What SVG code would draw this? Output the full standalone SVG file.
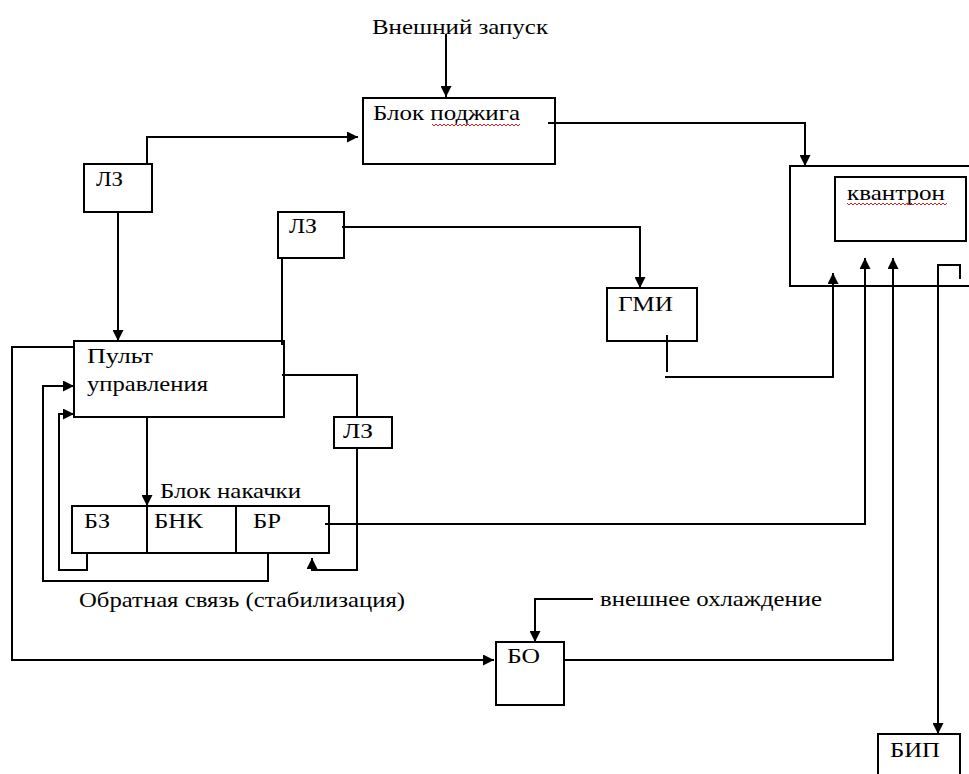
<svg xmlns="http://www.w3.org/2000/svg" width="969" height="774" viewBox="0 0 969 774">
<style>
.box{fill:#fff;stroke:#000;stroke-width:2}
.ln{fill:none;stroke:#000;stroke-width:2}
.ar{marker-end:url(#ah)}
text{font-family:'Liberation Serif','Times New Roman',Times,serif;font-size:21px;fill:#000}
.sq{fill:none;stroke:#d02020;stroke-width:1}
</style>
<defs>
<marker id="ah" markerUnits="userSpaceOnUse" markerWidth="11" markerHeight="11" refX="11" refY="5.5" orient="auto">
<path d="M0,0 L11,5.5 L0,11 z" fill="#000"/>
</marker>
</defs>
<rect width="969" height="774" fill="#fff"/>

<g id="nodes" font-family="Liberation Serif, Times New Roman, serif">
<g id="ext-start"><text x="372" y="34" textLength="176" lengthAdjust="spacingAndGlyphs">Внешний запуск</text></g>
<g id="blok-podzhiga">
<rect class="box" x="363" y="98" width="192" height="66"/>
<text x="373" y="120" textLength="147" lengthAdjust="spacingAndGlyphs">Блок поджига</text>
<path class="sq" d="M432,124 l2,2 2,-2 2,2 2,-2 2,2 2,-2 2,2 2,-2 2,2 2,-2 2,2 2,-2 2,2 2,-2 2,2 2,-2 2,2 2,-2 2,2 2,-2 2,2 2,-2 2,2 2,-2 2,2 2,-2 2,2 2,-2 2,2 2,-2 2,2 2,-2 2,2 2,-2 2,2 2,-2 2,2 2,-2 2,2 2,-2 2,2 2,-2 2,2 2,-2"/>
</g>
<g id="kvantron">
<rect class="box" x="790" y="166" width="190" height="120"/>
<rect class="box" x="835" y="177" width="131" height="64"/>
<text x="847" y="200" textLength="98" lengthAdjust="spacingAndGlyphs">квантрон</text>
<path class="sq" d="M847,203 l2,2 2,-2 2,2 2,-2 2,2 2,-2 2,2 2,-2 2,2 2,-2 2,2 2,-2 2,2 2,-2 2,2 2,-2 2,2 2,-2 2,2 2,-2 2,2 2,-2 2,2 2,-2 2,2 2,-2 2,2 2,-2 2,2 2,-2 2,2 2,-2 2,2 2,-2 2,2 2,-2 2,2 2,-2 2,2 2,-2 2,2 2,-2 2,2 2,-2 2,2 2,-2 2,2 2,-2 2,2 2,-2"/>
</g>
<g id="lz1">
<rect class="box" x="84" y="164" width="68" height="48"/>
<text x="96" y="186" textLength="27" lengthAdjust="spacingAndGlyphs">ЛЗ</text>
</g>
<g id="lz2">
<rect class="box" x="278" y="212" width="66" height="46"/>
<text x="289" y="233" textLength="28" lengthAdjust="spacingAndGlyphs">ЛЗ</text>
</g>
<g id="gmi">
<rect class="box" x="607" y="288" width="90" height="53"/>
<text x="618" y="311" textLength="55" lengthAdjust="spacingAndGlyphs">ГМИ</text>
</g>
<g id="pult">
<rect class="box" x="74" y="341" width="210" height="76"/>
<text x="87" y="363" textLength="66" lengthAdjust="spacingAndGlyphs">Пульт</text>
<text x="87" y="391" textLength="121" lengthAdjust="spacingAndGlyphs">управления</text>
</g>
<g id="lz3">
<rect class="box" x="334" y="417" width="58" height="31"/>
<text x="343" y="438" textLength="30" lengthAdjust="spacingAndGlyphs">ЛЗ</text>
</g>
<g id="blok-nakachki">
<text x="160" y="498" textLength="141" lengthAdjust="spacingAndGlyphs">Блок накачки</text>
<rect class="box" x="72" y="506" width="257" height="47"/>
<line class="ln" x1="147" y1="506" x2="147" y2="553"/>
<line class="ln" x1="236" y1="506" x2="236" y2="553"/>
<text x="84" y="528" textLength="26" lengthAdjust="spacingAndGlyphs">БЗ</text>
<text x="154" y="528" textLength="49" lengthAdjust="spacingAndGlyphs">БНК</text>
<text x="253" y="528" textLength="28" lengthAdjust="spacingAndGlyphs">БР</text>
</g>
<g id="feedback-label"><text x="79" y="607" textLength="326" lengthAdjust="spacingAndGlyphs">Обратная связь (стабилизация)</text></g>
<g id="ext-cool"><text x="600" y="606" textLength="222" lengthAdjust="spacingAndGlyphs">внешнее охлаждение</text></g>
<g id="bo">
<rect class="box" x="496" y="642" width="68" height="63"/>
<text x="507" y="663" textLength="33" lengthAdjust="spacingAndGlyphs">БО</text>
</g>
<g id="bip">
<rect class="box" x="878" y="734" width="82" height="50"/>
<text x="890" y="757" textLength="50" lengthAdjust="spacingAndGlyphs">БИП</text>
</g>
</g>

<g id="connectors">
<path class="ln ar" d="M446,34 V97"/>
<path class="ln ar" d="M147,165 V137 H358"/>
<path class="ln ar" d="M118,212 V341"/>
<path class="ln ar" d="M548,123 H805 V166"/>
<path class="ln ar" d="M342,227 H640 V288"/>
<path class="ln" d="M282,258 V345"/>
<path class="ln" d="M282,375 H357 V417"/>
<path class="ln ar" d="M357,448 V570 H312 V558"/>
<path class="ln ar" d="M147,417 V506"/>
<path class="ln ar" d="M87,553 V570 H59 V414 H74"/>
<path class="ln ar" d="M268,553 V581 H43 V386 H74"/>
<path class="ln ar" d="M74,347 H12 V660 H494"/>
<path class="ln ar" d="M593,599 H535 V642"/>
<path class="ln ar" d="M564,660 H893 V258"/>
<path class="ln ar" d="M325,524 H865 V258"/>
<path class="ln" d="M667,335 V372"/>
<path class="ln ar" d="M665,377 H833 V273"/>
<path class="ln ar" d="M960,279 V265 H938 V734"/>
</g>
</svg>
